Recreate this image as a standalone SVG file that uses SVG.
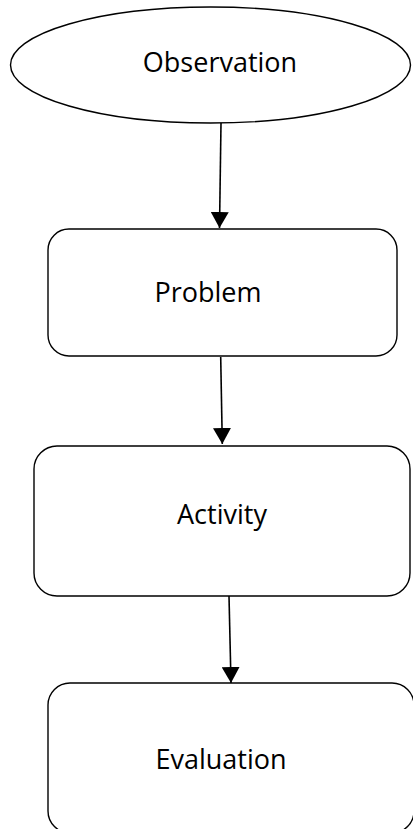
<svg xmlns="http://www.w3.org/2000/svg" width="413" height="829" viewBox="0 0 413 829">
<style>
.shape{fill:#fff;stroke:#000;stroke-width:1.4}
.lbl{font-family:"Open Sans","Liberation Sans",sans-serif;font-size:27px;fill:#000;text-anchor:middle}
.conn{stroke:#000;stroke-width:1.6;fill:none}
</style>
<defs>
<marker id="ah" markerUnits="userSpaceOnUse" viewBox="0 0 16 18" refX="16" refY="9" markerWidth="16" markerHeight="18" orient="auto">
<path d="M0,0 L16,9 L0,18 Z" fill="#000"/>
</marker>
</defs>
<rect width="413" height="829" fill="#fff"/>
<g id="connectors">
<line class="conn" x1="221" y1="123" x2="219.5" y2="228" marker-end="url(#ah)"/>
<line class="conn" x1="220.7" y1="357" x2="222.3" y2="444" marker-end="url(#ah)"/>
<line class="conn" x1="229" y1="596" x2="231" y2="683" marker-end="url(#ah)"/>
</g>
<g id="observation">
<ellipse class="shape" cx="210.5" cy="65" rx="200" ry="58"/>
<text class="lbl" x="220" y="72">Observation</text>
</g>
<g id="problem">
<rect class="shape" x="48" y="229" width="349" height="127" rx="21" ry="21"/>
<text class="lbl" x="208" y="302">Problem</text>
</g>
<g id="activity">
<rect class="shape" x="34" y="446" width="376" height="150" rx="23" ry="23"/>
<text class="lbl" x="222" y="524">Activity</text>
</g>
<g id="evaluation">
<rect class="shape" x="48" y="683" width="366" height="150" rx="22" ry="22"/>
<text class="lbl" x="221" y="769">Evaluation</text>
</g>
</svg>
